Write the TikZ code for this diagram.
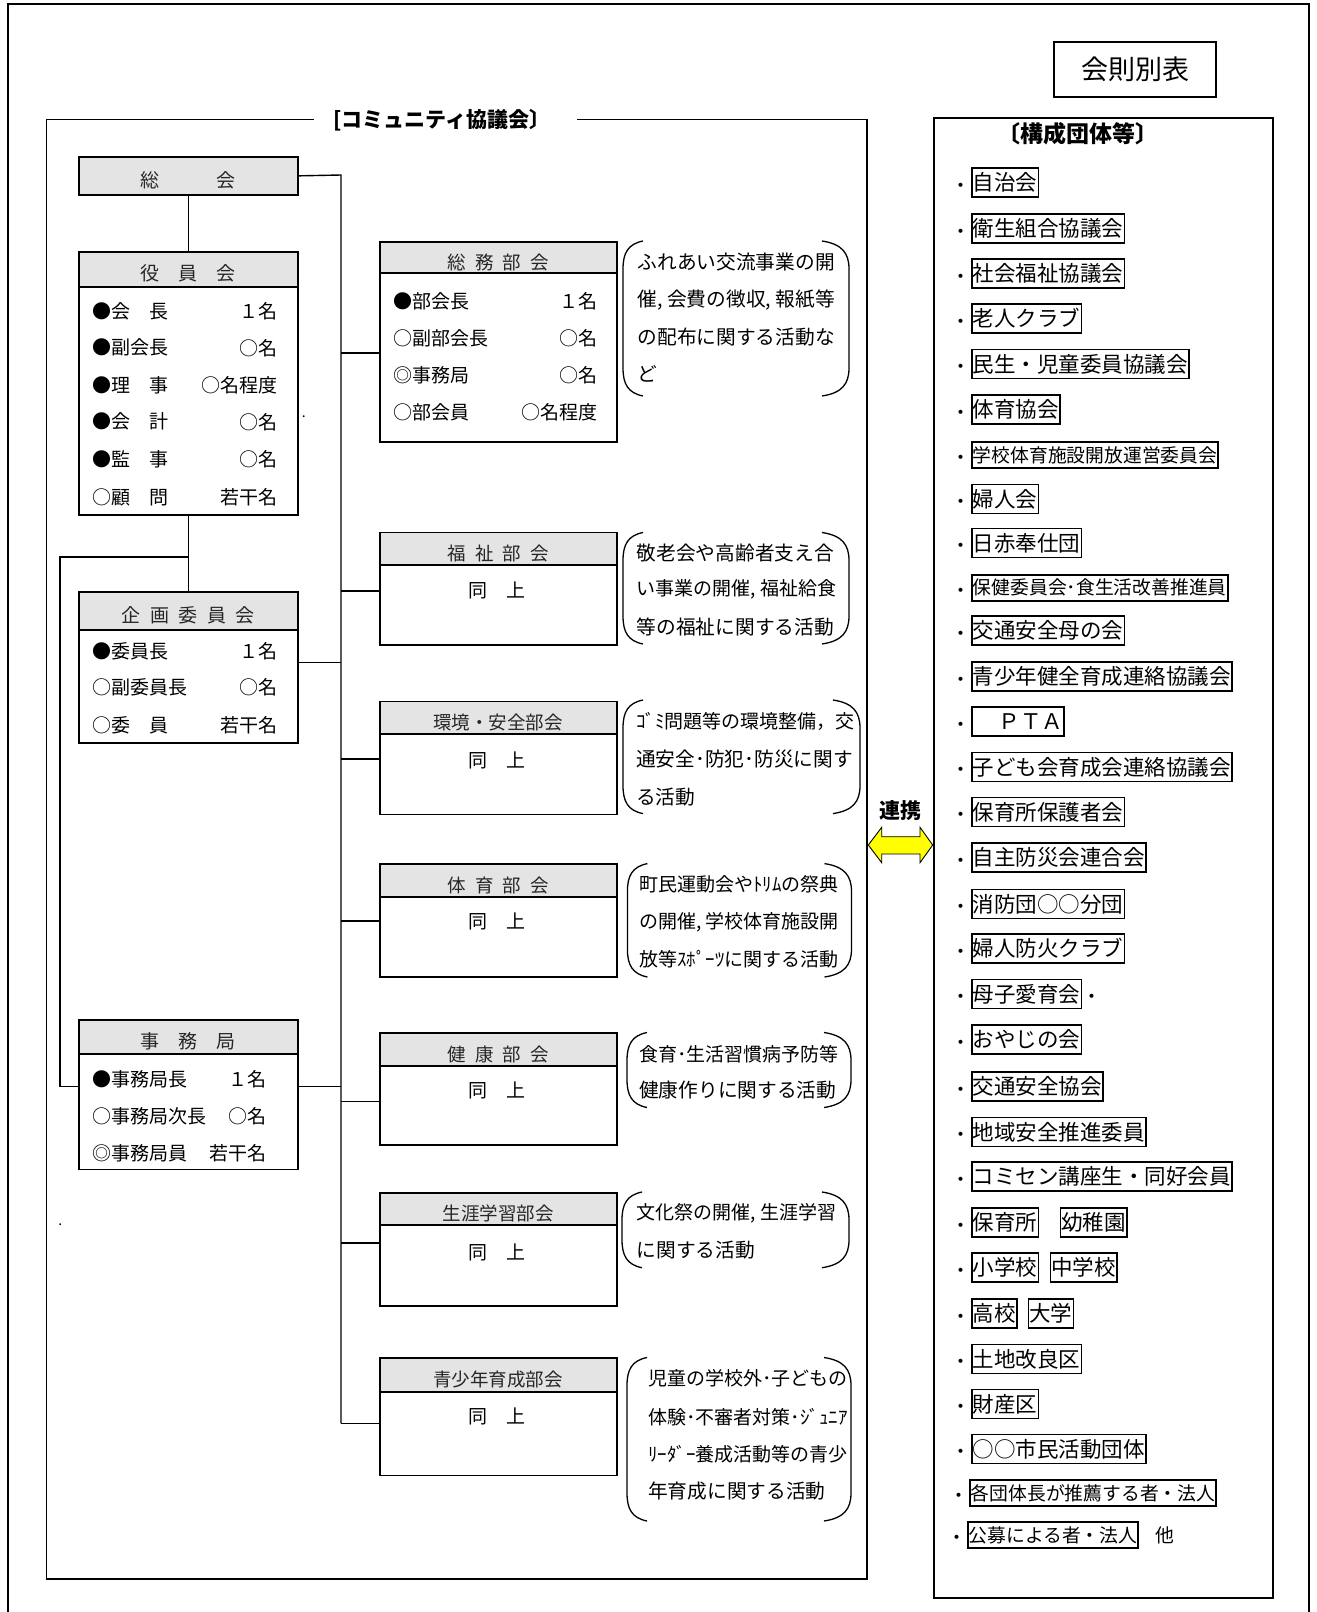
\documentclass[tikz,border=0pt]{standalone}
\usepackage{fontspec}
\setmainfont{Noto Sans CJK JP}
\newcommand\setfs[1]{\fontsize{#1}{#1}\selectfont}
\newcommand\hsp{\hspace{0.5em}}
\definecolor{hdrgray}{HTML}{E4E4E4}
\definecolor{arrowyellow}{HTML}{FFFF00}
\begin{document}
\begin{tikzpicture}[x=1pt,y=-1pt,
  conn/.style={line width=1.4pt},
  hdr/.style={draw, fill=hdrgray, line width=1.8pt, inner sep=0pt, anchor=north west, font=\setfs{19}, text=black!85, text height=25.5pt, text depth=2.2pt},
  dhdr/.style={hdr, font=\setfs{18.5}},
  body/.style={draw, line width=1.8pt, inner sep=0pt, anchor=north west},
  rowtxt/.style={inner sep=0pt, font=\setfs{19}},
  bracetxt/.style={inner sep=0pt, anchor=west, font=\setfs{19.7}},
  bracetxth/.style={bracetxt, font=\setfs{19}},
  item/.style={draw, line width=1.8pt, inner xsep=1pt, inner ysep=3.5pt, anchor=west, font=\setfs{21.5}, text height=19pt, text depth=3pt},
  itemsmall/.style={item, font=\setfs{18.8}, text height=16.5pt, text depth=2.5pt, inner ysep=3.75pt},
  bul/.style={inner sep=0pt, font=\setfs{19}, text height=22pt, text depth=2.3pt},
  paren/.style={line width=1.3pt},
]
\useasboundingbox (0,0) rectangle (1317,1612);
\newcommand\brow[6]{\node[rowtxt,anchor=west] (#1l) at (#3,#2) {#5};\node[rowtxt,anchor=east] (#1r) at (#4,#2) {#6};}
\newcommand\parens[4]{%
  \draw[paren] ({#1+20},#3) .. controls ({#1+5},{#3+3}) and (#1,{#3+12}) .. (#1,{#3+28}) -- (#1,{#4-28}) .. controls (#1,{#4-12}) and ({#1+5},{#4-3}) .. ({#1+20},#4);
  \draw[paren] ({#2-27},#3) .. controls ({#2-7},{#3+3}) and (#2,{#3+12}) .. (#2,{#3+28}) -- (#2,{#4-28}) .. controls (#2,{#4-12}) and ({#2-7},{#4-3}) .. ({#2-27},#4);}
\newcommand\ritem[4]{\node[bul] (b#1) at (961,#2) {・};\node[#3] (r#1) at (971,#2) {#4};}

% outer frame
\draw[line width=2pt] (7.7,1620) -- (7.7,4.3) -- (1308.7,4.3) -- (1308.7,1620);

% title box
\node[draw, line width=1.6pt, minimum width=162, minimum height=55, inner sep=0pt, font=\setfs{27}] (kaisoku) at (1135,69.5) {会則別表};

% community frame
\node[inner sep=0pt, font=\bfseries\setfs{21}] (ctitle) at (441.9,120) {[コミュニティ協議会〕};
\draw[line width=1.8pt] (313.6,119.5) -- (46.5,119.5) -- (46.5,1579) -- (867,1579) -- (867,119.5) -- (577.4,119.5);

% left column
\node[hdr, minimum width=218.4, minimum height=37.9] (soukai) at (78.3,156) {総　　　会};

\node[body, minimum width=218.4, minimum height=228] (yakuin) at (78.3,285.8) {};
\node[hdr, minimum width=218.4, minimum height=35.1] (yakuinh) at (78.3,250.7) {役　員　会};
\brow{ya}{311}{92.6}{277.8}{●会　長}{１名}
\brow{yb}{347.8}{92.6}{277.8}{●副会長}{○名}
\brow{yc}{385}{92.6}{277.8}{●理　事}{○名程度}
\brow{yd}{421.8}{92.6}{277.8}{●会　計}{○名}
\brow{ye}{459.7}{92.6}{277.8}{●監　事}{○名}
\brow{yf}{497.6}{92.6}{277.8}{○顧　問}{若干名}

\node[body, minimum width=218.4, minimum height=113] (kikaku) at (78.3,629) {};
\node[hdr, minimum width=218.4, minimum height=38.2] (kikakuh) at (78.3,590.8) {企\hsp 画\hsp 委\hsp 員\hsp 会};
\brow{ka}{651}{92.6}{277.8}{●委員長}{１名}
\brow{kb}{687.6}{92.6}{277.8}{○副委員長}{○名}
\brow{kc}{725.5}{92.6}{277.8}{○委　員}{若干名}

\node[body, minimum width=218.4, minimum height=115.5] (jimu) at (78.3,1053) {};
\node[hdr, minimum width=218.4, minimum height=33.6] (jimuh) at (78.3,1019.4) {事　務　局};
\brow{ja}{1079.5}{92.6}{267}{●事務局長}{１名}
\brow{jb}{1116}{92.6}{267}{○事務局次長}{○名}
\brow{jc}{1153}{92.6}{267}{◎事務局員}{若干名}

% stray dots
\node[inner sep=0pt, font=\setfs{14}] (dotA) at (303.9,417) {.};
\node[inner sep=0pt, font=\setfs{14}] (dotB) at (60.2,1225) {.};

% departments
\node[body, minimum width=236.9, minimum height=168.8] (somu) at (378.8,272) {};
\node[dhdr, minimum width=236.9, minimum height=31] (somuh) at (378.8,241) {総\hsp 務\hsp 部\hsp 会};
\brow{sa}{301.3}{393.5}{597.5}{●部会長}{１名}
\brow{sb}{338.5}{393.5}{597.5}{○副部会長}{○名}
\brow{sc}{375.3}{393.5}{597.5}{◎事務局}{○名}
\brow{sd}{412.5}{393.5}{597.5}{○部会員}{○名程度}

\node[body, minimum width=236.9, minimum height=80.4] (fuku) at (378.8,564) {};
\node[dhdr, minimum width=236.9, minimum height=32.5] (fukuh) at (378.8,531.5) {福\hsp 祉\hsp 部\hsp 会};
\node[rowtxt] (fukud) at (497.2,590.8) {同　上};

\node[body, minimum width=236.9, minimum height=80.5] (kan) at (378.8,733) {};
\node[dhdr, minimum width=236.9, minimum height=32.4] (kanh) at (378.8,700.6) {環境・安全部会};
\node[rowtxt] (kand) at (497.2,760) {同　上};

\node[body, minimum width=236.9, minimum height=80.2] (tai) at (378.8,895.8) {};
\node[dhdr, minimum width=236.9, minimum height=32.5] (taih) at (378.8,863.3) {体\hsp 育\hsp 部\hsp 会};
\node[rowtxt] (taid) at (497.2,921.8) {同　上};

\node[body, minimum width=236.9, minimum height=79] (ken) at (378.8,1065) {};
\node[dhdr, minimum width=236.9, minimum height=33] (kenh) at (378.8,1032) {健\hsp 康\hsp 部\hsp 会};
\node[rowtxt] (kend) at (497.2,1090.8) {同　上};

\node[body, minimum width=236.9, minimum height=81] (sho) at (378.8,1224) {};
\node[dhdr, minimum width=236.9, minimum height=32.3] (shoh) at (378.8,1191.7) {生涯学習部会};
\node[rowtxt] (shod) at (497.2,1252) {同　上};

\node[body, minimum width=236.9, minimum height=83.5] (sei) at (378.8,1391) {};
\node[dhdr, minimum width=236.9, minimum height=34] (seih) at (378.8,1357) {青少年育成部会};
\node[rowtxt] (seid) at (497.2,1416.7) {同　上};

% connectors
\coordinate (busTop) at (341,175);
\coordinate (busBot) at (341,1423.3);
\draw[conn] (soukai.east) -- (busTop) -- (busBot);
\draw[conn] (soukai.south) -- (yakuinh.north);
\draw[conn] (yakuin.south) -- (kikakuh.north);
\coordinate (lpA) at (187.5,557);
\coordinate (lpB) at (59.8,557);
\coordinate (lpC) at (59.8,1086.5);
\draw[conn] (lpA) -- (lpB) -- (lpC) -- (lpC -| jimu.west);
\coordinate (kk) at (296.7,662.7);
\draw[conn] (kk) -- (kk -| busTop);
\coordinate (jj) at (296.7,1086.5);
\draw[conn] (jj) -- (jj -| busTop);
\coordinate (br1) at (341,353);
\coordinate (br2) at (341,590.8);
\coordinate (br3) at (341,759);
\coordinate (br4) at (341,921);
\coordinate (br5) at (341,1101.7);
\coordinate (br6) at (341,1243);
\draw[conn] (br1) -- (br1 -| somu.west);
\draw[conn] (br2) -- (br2 -| fuku.west);
\draw[conn] (br3) -- (br3 -| kan.west);
\draw[conn] (br4) -- (br4 -| tai.west);
\draw[conn] (br5) -- (br5 -| ken.west);
\draw[conn] (br6) -- (br6 -| sho.west);
\draw[conn] (busBot) -- (busBot -| sei.west);

% braces
\parens{623}{849}{241}{396}
\node[bracetxt] (t1a) at (637.5,261.7) {ふれあい交流事業の開};
\node[bracetxt] (t1b) at (637.5,299.6) {催, 会費の徴収, 報紙等};
\node[bracetxt] (t1c) at (637.5,336.8) {の配布に関する活動な};
\node[bracetxt] (t1d) at (637.5,373.6) {ど};

\parens{623}{849}{532.5}{644}
\node[bracetxt] (t2a) at (636.6,553) {敬老会や高齢者支え合};
\node[bracetxth] (t2b) at (636.6,589.6) {い事業の開催, 福祉給食};
\node[bracetxt] (t2c) at (636.6,627) {等の福祉に関する活動};

\parens{623}{860}{700}{813.6}
\node[bracetxth] (t3a) at (636,721.8) {ｺﾞﾐ問題等の環境整備，交};
\node[bracetxt] (t3b) at (636,758.6) {通安全･防犯･防災に関す};
\node[bracetxt] (t3c) at (636,796.8) {る活動};

\parens{627.4}{851.5}{863.6}{977}
\node[bracetxth] (t4a) at (638.9,884) {町民運動会やﾄﾘﾑの祭典};
\node[bracetxth] (t4b) at (638.9,921.8) {の開催, 学校体育施設開};
\node[bracetxth] (t4c) at (638.9,959.3) {放等ｽﾎﾟｰﾂに関する活動};

\parens{627}{851}{1032.5}{1107.5}
\node[bracetxth] (t5a) at (639,1053.8) {食育･生活習慣病予防等};
\node[bracetxt] (t5b) at (639,1090) {健康作りに関する活動};

\parens{622}{849}{1192}{1267.7}
\node[bracetxth] (t6a) at (636.6,1213) {文化祭の開催, 生涯学習};
\node[bracetxt] (t6b) at (636.6,1250) {に関する活動};

\parens{627}{851}{1357.5}{1521}
\node[bracetxth] (t7a) at (648,1378.7) {児童の学校外･子どもの};
\node[bracetxth] (t7b) at (648,1417) {体験･不審者対策･ｼﾞｭﾆｱ};
\node[bracetxth] (t7c) at (648,1454) {ﾘｰﾀﾞｰ養成活動等の青少};
\node[bracetxt] (t7d) at (648,1491) {年育成に関する活動};

% renkei arrow
\node[inner sep=0pt, font=\bfseries\setfs{21}] (renkei) at (900,810.7) {連携};
\coordinate (arrL) at (868.3,845);
\coordinate (arrR) at (932.7,845);
\draw[line width=0.9pt, fill=arrowyellow] (arrL) -- (881.7,827.3) -- (881.7,836.7) -- (920,836.7) -- (920,827.3) -- (arrR) -- (920,862.7) -- (920,854) -- (881.7,854) -- (881.7,862.7) -- cycle;

% right panel
\node[draw, line width=1.6pt, minimum width=339, minimum height=1480, inner sep=0pt, anchor=north west] (panel) at (933,117) {};
\node[inner sep=0pt, font=\bfseries\setfs{23}] (ptitle) at (1078,133.6) {〔構成団体等〕};

\ritem{1}{182.5}{item}{自治会}
\ritem{2}{228.3}{item}{衛生組合協議会}
\ritem{3}{273.8}{item}{社会福祉協議会}
\ritem{4}{318.5}{item}{老人クラブ}
\ritem{5}{364}{item}{民生・児童委員協議会}
\ritem{6}{409.8}{item}{体育協会}
\ritem{7}{455}{itemsmall}{学校体育施設開放運営委員会}
\ritem{8}{499}{item}{婦人会}
\ritem{9}{543}{item}{日赤奉仕団}
\ritem{10}{587.9}{itemsmall}{保健委員会･食生活改善推進員}
\ritem{11}{630.5}{item}{交通安全母の会}
\ritem{12}{676.4}{item}{青少年健全育成連絡協議会}
\ritem{13}{721.8}{item}{\hspace{1.2em}ＰＴＡ\hspace{0.5em}}
\ritem{14}{767}{item}{子ども会育成会連絡協議会}
\ritem{15}{812}{item}{保育所保護者会}
\ritem{16}{857.5}{item}{自主防災会連合会}
\ritem{17}{904}{item}{消防団○○分団}
\ritem{18}{948.6}{item}{婦人防火クラブ}
\ritem{19}{994}{item}{母子愛育会}
\node[bul] (b19x) at (1091.5,994) {・};
\ritem{20}{1039.6}{item}{おやじの会}
\ritem{21}{1086.4}{item}{交通安全協会}
\ritem{22}{1132}{item}{地域安全推進委員}
\ritem{23}{1176.5}{item}{コミセン講座生・同好会員}
\ritem{24}{1222.7}{item}{保育所}
\node[item] (r24b) at (1059.5,1222.7) {幼稚園};
\ritem{25}{1267.7}{item}{小学校}
\node[item] (r25b) at (1049.5,1267.7) {中学校};
\ritem{26}{1313.5}{item}{高校}
\node[item] (r26b) at (1027.5,1313.5) {大学};
\ritem{27}{1359}{item}{土地改良区}
\ritem{28}{1404}{item}{財産区}
\ritem{29}{1449}{item}{○○市民活動団体}
\node[bul] (b30) at (959,1493) {・};
\node[itemsmall] (r30) at (969,1493) {各団体長が推薦する者・法人};
\node[bul] (b31) at (957,1535) {・};
\node[itemsmall] (r31) at (966.7,1535) {公募による者・法人};
\node[inner sep=0pt, font=\setfs{18.8}] (hoka) at (1164.7,1535) {他};
\end{tikzpicture}
\end{document}
